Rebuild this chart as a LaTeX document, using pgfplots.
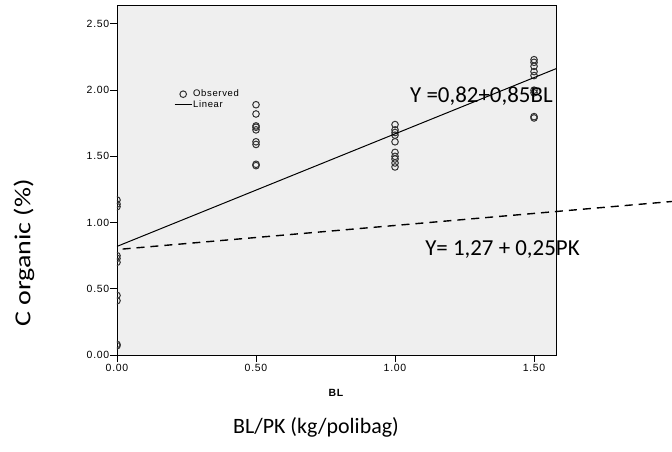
\documentclass[border=0pt]{standalone}
\usepackage{pgfplots}
\pgfplotsset{compat=1.18}
\usepackage{graphicx}
\usepackage{fontspec}
\setmainfont{Carlito}
\newfontfamily\spss[LetterSpace=7]{Liberation Sans}
\usetikzlibrary{calc}
\definecolor{bgray}{RGB}{239,239,239}
\begin{document}
\begin{tikzpicture}
\begin{axis}[
  name=ax, at={(0,0)}, anchor=south west,
  width=439bp, height=350bp, scale only axis,
  xmin=0, xmax=1.579, ymin=0, ymax=2.643,
  xtick={0,0.5,1,1.5}, ytick={0,0.5,1,1.5,2,2.5},
  xticklabel style={/pgf/number format/fixed, /pgf/number format/fixed zerofill, /pgf/number format/precision=2, /pgf/number format/assume math mode=true, font=\spss\fontsize{10.5}{12}\selectfont, inner sep=1.5bp},
  yticklabel style={/pgf/number format/fixed, /pgf/number format/fixed zerofill, /pgf/number format/precision=2, /pgf/number format/assume math mode=true, font=\spss\fontsize{10.5}{12}\selectfont, inner sep=0.5bp},
  axis background/.style={fill=bgray},
  axis line style={black, line width=0.9bp},
  tick style={black, line width=0.9bp},
  tick align=outside, major tick length=7bp,
  xtick pos=left, ytick pos=left,
  clip marker paths=true,
  legend style={at={(axis cs:0.205,2.01)}, anchor=north west, draw=none, fill=none, font=\spss\fontsize{9.5}{10}\selectfont, inner sep=0pt, row sep=0bp, nodes={inner sep=1bp}},
  legend cell align=left,
]
\addplot[only marks, mark=o, mark size=3.3bp, mark options={draw=black!80, line width=1bp}] table[row sep=\\] {
x y \\
0 1.17 \\ 0 1.14 \\ 0 1.12 \\ 0 0.75 \\ 0 0.73 \\ 0 0.70 \\ 0 0.45 \\ 0 0.41 \\ 0 0.08 \\ 0 0.07 \\
0.5 1.89 \\ 0.5 1.82 \\ 0.5 1.73 \\ 0.5 1.72 \\ 0.5 1.70 \\ 0.5 1.61 \\ 0.5 1.59 \\ 0.5 1.44 \\ 0.5 1.43 \\
1 1.74 \\ 1 1.70 \\ 1 1.68 \\ 1 1.66 \\ 1 1.61 \\ 1 1.53 \\ 1 1.50 \\ 1 1.48 \\ 1 1.45 \\ 1 1.42 \\
1.5 2.23 \\ 1.5 2.21 \\ 1.5 2.18 \\ 1.5 2.14 \\ 1.5 2.11 \\ 1.5 2.00 \\ 1.5 1.98 \\ 1.5 1.80 \\ 1.5 1.79 \\
};
\addlegendentry{Observed}
\addplot[black, line width=1bp, no marks] coordinates {(0,0.82) (1.579,2.162)};
\addlegendentry{Linear}
\end{axis}
\begin{axis}[
  at={(0,0)}, anchor=south west,
  width=439bp, height=350bp, scale only axis,
  xmin=0, xmax=1.579, ymin=0, ymax=2.643,
  hide axis, clip=false,
]
\addplot[black, line width=1.4bp, dash pattern=on 8bp off 6bp, no marks] coordinates {(0.02,0.80) (2.0,1.16)};
\node[anchor=west, inner sep=0pt, font=\fontsize{23}{26}\selectfont] at (axis cs:1.054,1.956) {Y =0,82+0,85BL};
\node[anchor=west, inner sep=0pt, font=\fontsize{23}{26}\selectfont] at (axis cs:1.108,0.793) {Y= 1,27 + 0,25PK};
\end{axis}
\node[font=\spss\bfseries\fontsize{10.5}{12}\selectfont] at ($(ax.south west)+(219bp,-38bp)$) {BL};
\node[font=\fontsize{22}{26}\selectfont] at ($(ax.south west)+(199bp,-72bp)$) {BL/PK (kg/polibag)};
\node[rotate=90, font=\fontsize{23}{26}\selectfont] at ($(ax.south west)+(-93bp,102bp)$) {\scalebox{1.22}[1]{C organic (\%)}};
\pgfresetboundingbox
\path ($(ax.south west)+(-117bp,-97bp)$) rectangle ($(ax.south west)+(555bp,355bp)$);
\end{tikzpicture}
\end{document}
